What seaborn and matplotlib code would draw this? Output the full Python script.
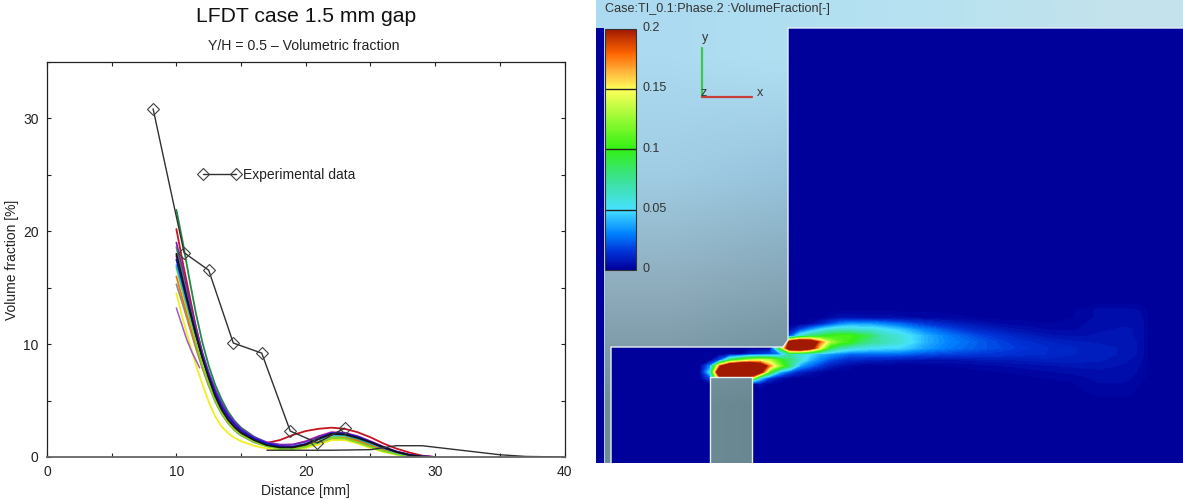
import numpy as np
import seaborn as sns
import matplotlib
import matplotlib.pyplot as plt
from matplotlib.cm import ScalarMappable
from matplotlib.colors import LinearSegmentedColormap, Normalize
from matplotlib.patches import PathPatch
from matplotlib.path import Path
from matplotlib.ticker import MultipleLocator
from matplotlib.transforms import ScaledTranslation

matplotlib.use('Agg')

# left chart data
exp_x = [8.2, 10.6, 12.5, 14.4, 16.6, 18.8, 20.9, 23.0]
exp_y = [30.85, 18.1, 16.55, 10.1, 9.2, 2.3, 1.25, 2.55]

dist = [10, 10.5, 11, 11.5, 12, 12.5, 13, 13.5, 14, 14.5, 15, 16, 17, 18, 19, 20, 21, 22, 23, 24, 25, 26, 27, 28, 29, 30]

s_red = [20.2, 17.2, 14.4, 11.6, 9.2, 7.1, 5.5, 4.2, 3.3, 2.6, 2.1, 1.5, 1.25, 1.5, 1.95, 2.3, 2.5, 2.6, 2.5, 2.2, 1.75, 1.2, 0.75, 0.4, 0.12, 0.0]
s_green = [21.9, 19.0, 15.8, 12.8, 10.2, 8.1, 6.4, 5.1, 4.0, 3.2, 2.6, 1.8, 1.25, 1.0, 0.9, 1.1, 1.6, 2.0, 1.95, 1.6, 1.15, 0.7, 0.35, 0.12, 0.0, 0.0]
s_purple = [19.0, 16.6, 14.0, 11.5, 9.3, 7.5, 6.0, 4.8, 3.8, 3.1, 2.5, 1.75, 1.3, 1.1, 1.1, 1.35, 1.8, 2.15, 2.1, 1.8, 1.35, 0.85, 0.45, 0.18, 0.04, 0.0]
s_dkgreen = [18.6, 16.0, 13.5, 11.1, 8.9, 7.1, 5.6, 4.4, 3.5, 2.8, 2.3, 1.6, 1.15, 0.9, 0.8, 0.95, 1.35, 1.75, 1.75, 1.45, 1.05, 0.65, 0.32, 0.1, 0.0, 0.0]
s_blue = [17.5, 15.3, 13.1, 10.9, 8.9, 7.2, 5.7, 4.5, 3.6, 2.9, 2.35, 1.65, 1.2, 0.95, 0.9, 1.15, 1.65, 2.1, 2.1, 1.8, 1.35, 0.88, 0.48, 0.2, 0.05, 0.0]
s_cyan = [17.0, 14.9, 12.8, 10.8, 8.9, 7.2, 5.8, 4.6, 3.7, 3.0, 2.4, 1.7, 1.25, 1.0, 0.95, 1.15, 1.55, 1.95, 1.95, 1.65, 1.2, 0.78, 0.4, 0.16, 0.03, 0.0]
s_black = [18.0, 15.6, 13.2, 10.9, 8.8, 7.0, 5.4, 4.2, 3.3, 2.65, 2.15, 1.5, 1.05, 0.85, 0.85, 1.1, 1.6, 2.05, 2.0, 1.7, 1.3, 0.85, 0.45, 0.18, 0.04, 0.0]
s_orange = [16.0, 13.9, 11.8, 9.8, 8.0, 6.4, 5.0, 3.9, 3.0, 2.4, 1.95, 1.35, 1.0, 0.85, 0.85, 1.0, 1.35, 1.7, 1.7, 1.45, 1.05, 0.65, 0.33, 0.12, 0.02, 0.0]
s_gray = [15.3, 13.5, 11.6, 9.7, 7.9, 6.3, 4.9, 3.8, 3.0, 2.35, 1.9, 1.3, 0.95, 0.8, 0.8, 0.95, 1.2, 1.55, 1.55, 1.3, 0.95, 0.6, 0.3, 0.1, 0.0, 0.0]
s_yellow = [14.5, 12.2, 10.2, 8.2, 6.5, 4.9, 3.6, 2.7, 2.1, 1.7, 1.4, 1.0, 0.75, 0.65, 0.65, 0.8, 1.1, 1.5, 1.5, 1.2, 0.8, 0.45, 0.2, 0.05, 0.0, 0.0]
s_lime = [16.8, 14.6, 12.4, 10.2, 8.2, 6.5, 5.0, 3.9, 3.05, 2.4, 1.95, 1.35, 0.95, 0.72, 0.7, 0.9, 1.3, 1.7, 1.65, 1.3, 0.9, 0.52, 0.25, 0.08, 0.0, 0.0]
s_magenta = [17.8, 15.4, 13.1, 10.9, 8.9, 7.1, 5.6, 4.4, 3.5, 2.8, 2.25, 1.6, 1.2, 1.05, 1.1, 1.4, 1.85, 2.2, 2.15, 1.85, 1.4, 0.92, 0.5, 0.22, 0.06, 0.0]

series = [s_red, s_green, s_dkgreen, s_gray, s_orange, s_yellow, s_lime, s_cyan, s_magenta, s_purple, s_blue, s_black]
series_colors = ['#c8141e', '#1e8c46', '#2ca84a', '#8c8c8c', '#e67814', '#f0f01e', '#78dc28', '#1eb4d2', '#d21eaa', '#7828b4', '#1414d2', '#141414']

short_x = [10, 10.4, 10.8, 11.2, 11.8]
short_y = [13.2, 11.8, 10.4, 9.3, 7.9]

low_x = [17, 20, 22, 25, 27, 29, 32, 35, 37, 40]
low_y = [0.6, 0.6, 0.6, 0.65, 1.0, 1.0, 0.6, 0.2, 0.05, 0.0]

# right panel data, volume fraction (in 0.01 units)
field_x = [700, 710, 720, 730, 740, 750, 760, 770, 780, 790, 800, 810, 820, 830, 840, 850, 860, 870, 880, 900, 925, 950, 975, 1000, 1025, 1050, 1075, 1100, 1125, 1140, 1150]
field_y = [302, 310, 318, 324, 330, 336, 342, 348, 354, 360, 366, 372, 378, 384, 392, 402]
field_vals = [
    [0, 0, 0, 0, 0, 0, 0, 0, 0, 0, 0, 0, 0, 0, 0, 0, 0, 0, 0, 0, 0, 0, 0, 0, 0, 0, 0, 0, 0, 0, 0],
    [0, 0, 0, 0, 0, 0, 0, 0, 0, 0, 0, 0, 0, 0, 0, 0, 0, 0, 0, 0, 0, 0, 0, 0, 0, 0, .1, .4, .4, .3, 0],
    [0, 0, 0, 0, 0, 0, 0, 0, 0, 0, 0, 0, 0, .3, .6, .6, .5, .5, .5, .4, .3, .2, .1, 0, 0, 0, .1, .4, .5, .4, 0],
    [0, 0, 0, 0, 0, 0, 0, 0, 0, 0, 0, .3, 1, 2, 3, 3.5, 3.5, 3.5, 3.2, 2.5, 1.6, 1, .6, .3, .2, .1, .2, .5, .5, .5, 0],
    [0, 0, 0, 0, 0, 0, 0, 0, 0, .5, 2, 3.5, 5, 6, 6.5, 6.5, 6, 6, 5.5, 4.5, 3, 2, 1.2, .8, .5, .3, .3, .5, .6, .5, 0],
    [0, 0, 0, 0, 0, 0, 0, 0, 0, 2, 6, 8, 9, 10, 10.5, 10.5, 9.5, 8.5, 7, 5.8, 4, 2.8, 2, 1.4, .9, .6, .5, .6, .6, .5, 0],
    [0, 0, 0, 0, 0, 0, 0, 0, 1, 22, 26, 24, 18, 13, 11, 10, 8.5, 7.5, 7, 6, 4, 3, 2.4, 1.8, 1.3, 1, .8, .7, .7, .5, 0],
    [0, 0, 0, 0, 0, 0, 0, 0, 10, 24, 26, 22, 15, 9, 7, 6, 5.5, 5.2, 5, 4.8, 3.6, 2.8, 2.3, 1.9, 1.5, 1.2, 1, .9, .7, .5, 0],
    [0, 0, 0, 0, 0, 1, 1.5, 2, 3, 7, 6, 5, 4, 3.5, 3, 2.5, 2.5, 2.5, 2.5, 2.5, 2, 1.8, 1.6, 1.5, 1.3, 1.2, 1, .9, .7, .5, 0],
    [0, 0, 2, 8, 11, 13, 14, 13, 10, 8, 6, 4, 3, 2, 1.5, 1, 1, .8, .8, .6, .5, .5, .6, .7, .8, .9, .9, .8, .6, .4, 0],
    [0, 3, 18, 26, 28, 28, 24, 17, 12, 8, 3.5, 2.5, 1.5, .8, .4, .2, 0, 0, 0, 0, 0, .1, .2, .3, .4, .5, .6, .6, .5, .3, 0],
    [0, 5, 26, 28, 28, 27, 22, 10, 4, 2, 1, .5, .2, 0, 0, 0, 0, 0, 0, 0, 0, 0, 0, .1, .2, .3, .4, .5, .4, .3, 0],
    [0, 2, 18, 20, 20, 17, 5, 1.5, .5, 0, 0, 0, 0, 0, 0, 0, 0, 0, 0, 0, 0, 0, 0, 0, 0, .1, .2, .4, .4, .2, 0],
    [0, 0, 0, 0, 0, 0, .5, 0, 0, 0, 0, 0, 0, 0, 0, 0, 0, 0, 0, 0, 0, 0, 0, 0, 0, 0, .1, .3, .3, .1, 0],
    [0, 0, 0, 0, 0, 0, 0, 0, 0, 0, 0, 0, 0, 0, 0, 0, 0, 0, 0, 0, 0, 0, 0, 0, 0, 0, 0, .2, .2, 0, 0],
    [0, 0, 0, 0, 0, 0, 0, 0, 0, 0, 0, 0, 0, 0, 0, 0, 0, 0, 0, 0, 0, 0, 0, 0, 0, 0, 0, 0, 0, 0, 0],
]

bar_ticks = [0, 0.05, 0.1, 0.15, 0.2]
bar_labels = ['0', '0.05', '0.1', '0.15', '0.2']

backdrop = [
    [(172, 218, 240), (178, 224, 242), (185, 226, 240), (195, 226, 236)],
    [(160, 205, 228), (150, 195, 220), (150, 190, 210), (160, 195, 210)],
    [(142, 172, 188), (130, 162, 178), (120, 150, 165), (125, 155, 165)],
    [(110, 140, 150), (100, 132, 142), (92, 122, 132), (95, 125, 135)],
]

W, H = 1183, 500


def px_axes(fig, left, top, right, bottom):
    return fig.add_axes([left / W, 1 - bottom / H, (right - left) / W, (bottom - top) / H])


def fig_text(fig, x, y, s, **kw):
    fig.text(x / W, 1 - y / H, s, va='center', **kw)


sns.set_theme(style='ticks')
plt.rcParams['font.family'] = ['Liberation Sans', 'DejaVu Sans']

fig = plt.figure(figsize=(W / 100, H / 100), dpi=100, facecolor='white')

# ---- left chart
ax = px_axes(fig, 47, 62, 564.5, 457)

for vals, col in zip(series, series_colors):
    sns.lineplot(x=dist, y=vals, color=col, lw=1.3, errorbar=None, ax=ax, legend=False)
sns.lineplot(x=short_x, y=short_y, color='#9a5cc8', lw=1.1, errorbar=None, ax=ax, legend=False)
sns.lineplot(x=low_x, y=low_y, color='#303030', lw=1.0, errorbar=None, ax=ax, legend=False)
sns.lineplot(x=exp_x, y=exp_y, color='#303030', lw=1.0, errorbar=None, ax=ax, sort=False,
             marker='D', ms=6.5, mfc='none', mec='#404040', mew=0.8, label='Experimental data')

ax.set_xlim(0, 40)
ax.set_ylim(0, 35)
ax.xaxis.set_major_locator(MultipleLocator(10))
ax.xaxis.set_minor_locator(MultipleLocator(5))
ax.yaxis.set_major_locator(MultipleLocator(10))
ax.yaxis.set_minor_locator(MultipleLocator(5))
ax.tick_params(which='both', direction='in', top=True, right=True, length=3, width=0.8,
               color='#222222', labelsize=10, labelcolor='#222222', pad=6)
for sp in ax.spines.values():
    sp.set_linewidth(0.9)
    sp.set_color('#222222')
ax.spines['bottom'].set_color('#666666')
ax.spines['bottom'].set_linewidth(1.3)
ax.set_xlabel('Distance [mm]', fontsize=10, color='#222222', labelpad=3)
ax.set_ylabel('Volume fraction [%]', fontsize=10, color='#222222', labelpad=3)
ax.legend(loc='center left', bbox_to_anchor=(11.7, 25), bbox_transform=ax.transData, frameon=False,
          numpoints=2, handlelength=3.0, handletextpad=0.2, borderpad=0, borderaxespad=0,
          fontsize=10, labelcolor='#222222')

fig_text(fig, 306, 16, 'LFDT case 1.5 mm gap', ha='center', fontsize=15.2, color='#111111')
fig_text(fig, 304, 46, 'Y/H = 0.5 \u2013 Volumetric fraction', ha='center', fontsize=10.2, color='#222222')

# ---- right contour panel
stops = [(0, (0, 0, 155)), (0.015, (0, 50, 215)), (0.03, (0, 130, 255)), (0.05, (70, 225, 255)),
         (0.075, (60, 225, 150)), (0.1, (50, 240, 20)), (0.125, (150, 250, 50)), (0.15, (255, 255, 90)),
         (0.165, (255, 180, 60)), (0.18, (255, 100, 0)), (0.2, (160, 25, 0))]
cmap = LinearSegmentedColormap.from_list('vf', [(p / 0.2, tuple(c / 255 for c in rgb)) for p, rgb in stops])
norm = Normalize(0, 0.2)

cfd = px_axes(fig, 596, 0, 1183, 463)
cfd.set_xlim(596, 1183)
cfd.set_ylim(463, 0)
cfd.axis('off')
cfd.fill_between([596, 1183], 0, 463, color=cmap(0.0), lw=0, zorder=0)
cfd.contourf(field_x, field_y, np.array(field_vals) / 100, levels=np.linspace(0.001, 0.2, 90),
             cmap=cmap, norm=norm, extend='max', zorder=1)

outer = [(596, 0), (1183, 0), (1183, 28), (788, 28), (788, 340), (783, 347), (611, 347), (611, 463),
         (604, 463), (604, 28), (596, 28), (596, 0)]
block = [(710, 463), (710, 377), (752, 377), (752, 463), (710, 463)]
verts = outer + block
codes = [Path.MOVETO] + [Path.LINETO] * (len(outer) - 2) + [Path.CLOSEPOLY] + \
        [Path.MOVETO] + [Path.LINETO] * (len(block) - 2) + [Path.CLOSEPOLY]
solid = PathPatch(Path(verts, codes), fc='none', ec='none', transform=cfd.transData)
cfd.add_patch(solid)
im = cfd.imshow(np.array(backdrop, dtype=float) / 255, extent=(596, 1183, 463, 0), aspect='auto',
                interpolation='bilinear', zorder=2)
im.set_clip_path(solid)
cfd.set_xlim(596, 1183)
cfd.set_ylim(463, 0)
cfd.plot([1183, 788, 788, 783, 611, 611], [28, 28, 340, 347, 347, 463], color='#e8f0f4', lw=1.0, zorder=3)
cfd.plot([710, 710, 752, 752], [463, 377, 377, 463], color='#e8f0f4', lw=1.0, zorder=3)
cfd.plot([604, 604], [28, 463], color='#c0dcea', lw=0.6, zorder=3)

# orientation triad
cfd.plot([702, 702], [97, 48], color='#3cc850', lw=1.6, zorder=4)
cfd.plot([702, 752], [97, 97], color='#c83c3c', lw=1.6, zorder=4)
cfd.text(705, 38, 'y', ha='center', va='center', fontsize=9, color='#333333', zorder=5)
cfd.text(760, 93, 'x', ha='center', va='center', fontsize=9, color='#333333', zorder=5)
cfd.text(704, 93, 'z', ha='center', va='center', fontsize=9, color='#333333', zorder=5)

fig_text(fig, 605, 9, 'Case:TI_0.1:Phase.2 :VolumeFraction[-]', ha='left', fontsize=9.05, color='#333333')

# colour bar
cax = px_axes(fig, 605, 29, 636, 270)
cb = fig.colorbar(ScalarMappable(norm=norm, cmap=cmap), cax=cax)
cb.set_ticks(bar_ticks)
cb.set_ticklabels(bar_labels)
cb.ax.tick_params(length=0, pad=5, labelsize=9, labelcolor='#333333')
cb.outline.set_edgecolor('#333333')
cb.outline.set_linewidth(0.8)
cb.add_lines([0.05, 0.1, 0.15], ['#222222'] * 3, [1.0] * 3)
for lab in cb.ax.get_yticklabels():
    lab.set_transform(lab.get_transform() + ScaledTranslation(0, 2.5 / 100, fig.dpi_scale_trans))

fig.savefig('out.png', dpi=100)
